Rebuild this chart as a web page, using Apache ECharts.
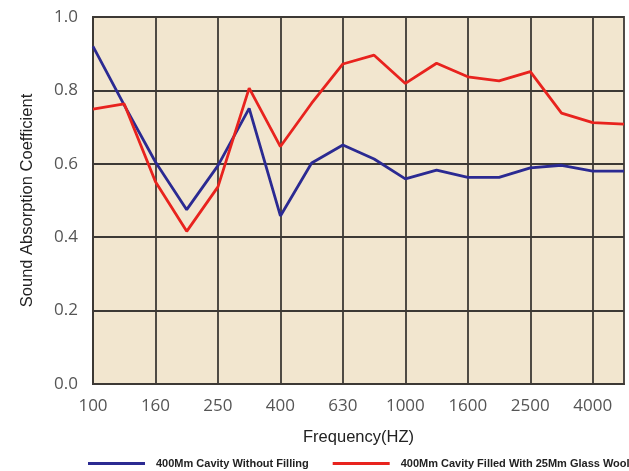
<!DOCTYPE html>
<html>
<head>
<meta charset="utf-8">
<script src="https://cdn.jsdelivr.net/npm/echarts@6/dist/echarts.min.js"></script>
<style>html,body{margin:0;padding:0;background:#fff}#c{width:629px;height:471px}</style>
</head>
<body>
<div id="c"></div>
<script>
var categories = ['100','125','160','200','250','315','400','500','630','800','1000','1250','1600','2000','2500','3150','4000','5000'];
var withoutFilling = [0.92,0.76,0.605,0.475,0.595,0.751,0.458,0.602,0.651,0.613,0.559,0.583,0.563,0.563,0.589,0.596,0.58,0.58];
var glassWool = [0.749,0.763,0.551,0.416,0.537,0.806,0.647,0.765,0.872,0.896,0.819,0.874,0.837,0.826,0.851,0.738,0.712,0.708];
var seriesNames = ['400Mm Cavity Without Filling','400Mm Cavity Filled With 25Mm Glass Wool'];

var chart = echarts.init(document.getElementById('c'), null, {renderer:'canvas'});
var gridColor = '#3d3935';
chart.setOption({
  animation:false,
  grid:{left:93,right:5,top:17,bottom:87,show:true,backgroundColor:'#F2E6CF',borderColor:gridColor,borderWidth:1.8},
  legend:{
    top:458,left:88,width:560,padding:0,
    itemWidth:57,itemHeight:3,itemGap:24,icon:'rect',
    textStyle:{fontFamily:'Liberation Sans',fontSize:11,fontWeight:'bold',color:'#222',padding:[0,0,0,6]},
    data:seriesNames
  },
  xAxis:{
    type:'category',data:categories,boundaryGap:false,
    name:'Frequency(HZ)',nameLocation:'middle',nameGap:45,
    nameTextStyle:{fontFamily:'Liberation Sans',fontSize:16.5,color:'#222'},
    axisLine:{show:true,lineStyle:{color:gridColor,width:1.8}},
    axisTick:{show:false},
    axisLabel:{interval:1,margin:14,fontFamily:'Open Sans',fontSize:17,color:'#555'},
    splitLine:{show:true,interval:1,lineStyle:{color:gridColor,width:1.8}}
  },
  yAxis:{
    type:'value',min:0,max:1,interval:0.2,
    name:'Sound Absorption Coefficient',nameLocation:'middle',nameGap:57,
    nameTextStyle:{fontFamily:'Liberation Sans',fontSize:16.5,color:'#222'},
    axisLine:{show:true,lineStyle:{color:gridColor,width:1.8}},
    axisTick:{show:false},
    axisLabel:{margin:15,fontFamily:'Open Sans',fontSize:17,color:'#555',formatter:function(v){return v.toFixed(1);}},
    splitLine:{show:true,lineStyle:{color:gridColor,width:1.8}}
  },
  series:[
    {name:seriesNames[0],type:'line',data:withoutFilling,symbol:'none',itemStyle:{color:'#2B2A92'},lineStyle:{color:'#2B2A92',width:2.8}},
    {name:seriesNames[1],type:'line',data:glassWool,symbol:'none',itemStyle:{color:'#E8231E'},lineStyle:{color:'#E8231E',width:2.8}}
  ]
});
</script>
</body>
</html>
